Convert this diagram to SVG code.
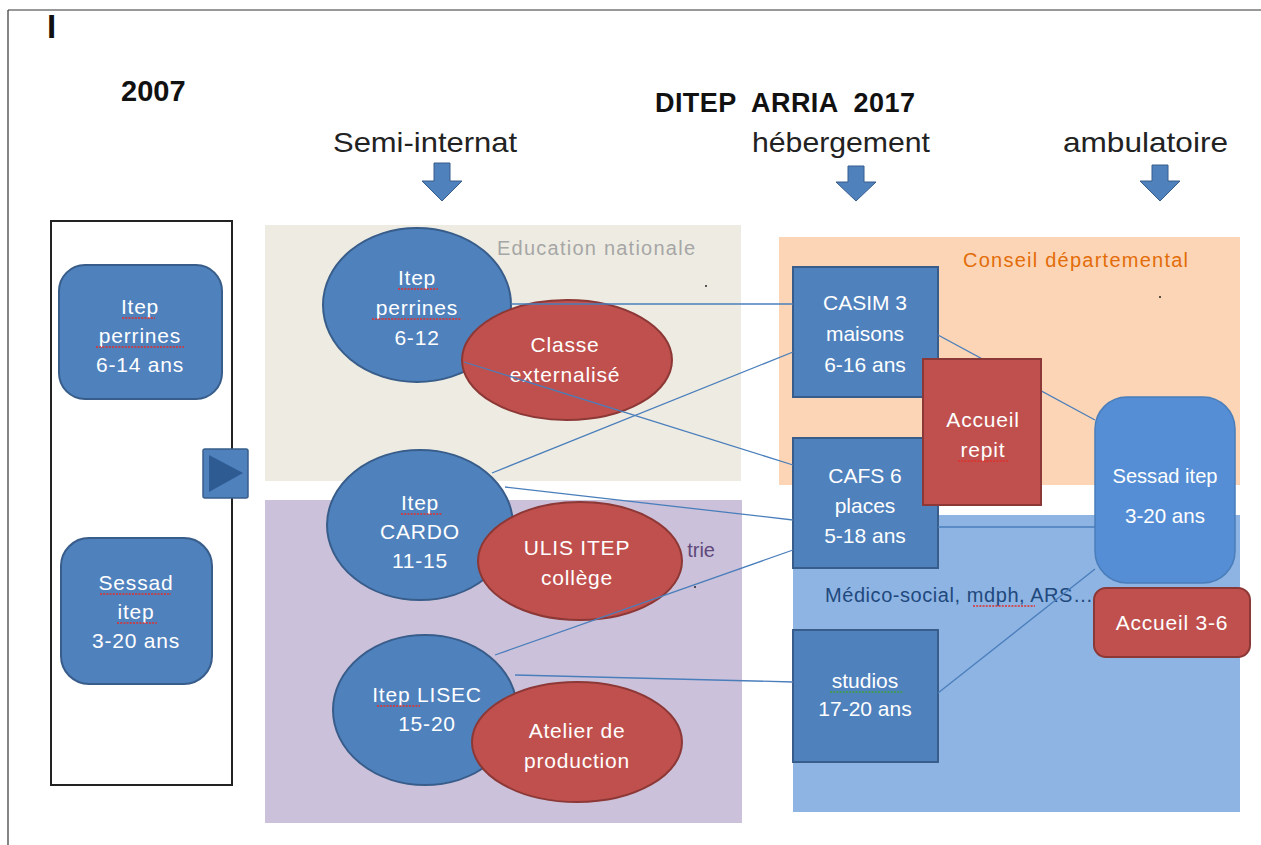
<svg xmlns="http://www.w3.org/2000/svg" width="1261" height="845" viewBox="0 0 1261 845">
<style>
.bl{fill:#4F81BD;stroke:#385D8A;stroke-width:2}
.lb{fill:#558ED5;stroke:#4A7EBB;stroke-width:1.5}
.rd{fill:#C0504D;stroke:#8C3836;stroke-width:2}
.t{font-family:"Liberation Sans",Arial,sans-serif;fill:#fff;font-size:21px;text-anchor:middle}
.te{letter-spacing:0.8px}
.h{font-family:"Liberation Sans",Arial,sans-serif;fill:#222;font-size:28px}
.hb{font-family:"Liberation Sans",Arial,sans-serif;fill:#111;font-weight:bold}
.zl{font-family:"Liberation Sans",Arial,sans-serif;font-size:20px}
.c{stroke:#4A7EBB;stroke-width:1.3;fill:none}
.sp{stroke:#E0302C;stroke-width:1.4;fill:none;stroke-dasharray:2 1.2}
.spg{stroke:#3FA03A;stroke-width:1.4;fill:none;stroke-dasharray:2 1.2}
.ar{fill:#4F81BD;stroke:#385D8A;stroke-width:1}
</style>

<!-- frame -->
<g id="frame">
<line x1="8" y1="10" x2="1261" y2="10" stroke="#333" stroke-width="1.2"/>
<line x1="8" y1="10" x2="8" y2="845" stroke="#333" stroke-width="1.2"/>
</g>

<!-- zones -->
<g id="zones">
<rect id="zone-edu" x="265" y="225" width="476" height="256" fill="#EEECE2"/>
<rect id="zone-psy" x="265" y="500" width="477" height="323" fill="#CCC1DA"/>
<rect id="zone-cd" x="779" y="237" width="461" height="248" fill="#FBD5B5"/>
<rect id="zone-ms" x="793" y="515" width="447" height="297" fill="#8EB4E3"/>
<text class="zl" x="497" y="255" fill="#A6A6A6" textLength="198" lengthAdjust="spacing">Education nationale</text>
<text class="zl" x="715" y="557" fill="#5F497A" text-anchor="end">trie</text>
<text class="zl" x="963" y="267" fill="#E36C09" textLength="225" lengthAdjust="spacing">Conseil départemental</text>
<text class="zl" x="825" y="602" fill="#1F497D" textLength="268" lengthAdjust="spacing">Médico-social, mdph, ARS…</text>
<circle cx="706" cy="286" r="1" fill="#222"/>
<circle cx="1160" cy="297" r="1" fill="#222"/>
</g>

<!-- headings -->
<g id="headings">
<text class="hb" x="47" y="38" font-size="33">I</text>
<text class="hb" x="121" y="101" font-size="29">2007</text>
<text class="hb" x="655" y="112" font-size="27" textLength="260" lengthAdjust="spacing" xml:space="preserve">DITEP  ARRIA  2017</text>
<text class="h" x="333" y="152" textLength="184" lengthAdjust="spacingAndGlyphs">Semi-internat</text>
<text class="h" x="752" y="152" textLength="178" lengthAdjust="spacingAndGlyphs">hébergement</text>
<text class="h" x="1063" y="152" textLength="165" lengthAdjust="spacingAndGlyphs">ambulatoire</text>
<path class="ar" d="M434,163 H450 V181 H462 L442,201 L422,181 H434 Z"/>
<path class="ar" d="M848,166 H864 V182 H876 L856,201 L836,182 H848 Z"/>
<path class="ar" d="M1152,165 H1168 V181 H1180 L1160,201 L1140,181 H1152 Z"/>
</g>

<!-- 2007 column -->
<g id="box-2007">
<rect x="51" y="221" width="181" height="564" fill="#fff" stroke="#222" stroke-width="2"/>
</g>
<g id="node-2007-itep">
<rect class="bl" x="59" y="265" width="163" height="134" rx="26"/>
<text class="t te" x="140" y="314">Itep</text>
<text class="t te" x="140" y="343">perrines</text>
<text class="t te" x="140" y="372">6-14 ans</text>
<path class="sp" d="M122,318 H155 M96,347 H184"/>
</g>
<g id="node-2007-sessad">
<rect class="bl" x="61" y="538" width="151" height="146" rx="28"/>
<text class="t te" x="136" y="590">Sessad</text>
<text class="t te" x="136" y="619">itep</text>
<text class="t te" x="136" y="648">3-20 ans</text>
<path class="sp" d="M100,594 H171 M117,623 H157"/>
</g>
<g id="node-transition">
<rect x="203" y="449" width="45" height="49" rx="2" fill="#4F81BD" stroke="#385D8A" stroke-width="1.5"/>
<path d="M209,455 L209,492 L243,473 Z" fill="#2F5B93"/>
</g>

<!-- semi-internat nodes -->
<g id="node-itep-perrines">
<ellipse class="bl" cx="417" cy="305" rx="94" ry="77"/>
<text class="t te" x="417" y="285">Itep</text>
<text class="t te" x="417" y="315">perrines</text>
<text class="t te" x="417" y="345">6-12</text>
<path class="sp" d="M398,289 H438 M372,319 H461"/>
</g>
<g id="node-classe">
<ellipse class="rd" cx="567" cy="360" rx="105" ry="60"/>
<text class="t te" x="565" y="352">Classe</text>
<text class="t te" x="565" y="382">externalisé</text>
</g>
<g id="node-itep-cardo">
<ellipse class="bl" cx="420" cy="525" rx="93" ry="75"/>
<text class="t te" x="420" y="510">Itep</text>
<text class="t te" x="420" y="539">CARDO</text>
<text class="t te" x="420" y="568">11-15</text>
<path class="sp" d="M401,514 H442"/>
</g>
<g id="node-ulis">
<ellipse class="rd" cx="580" cy="561" rx="102" ry="59"/>
<text class="t te" x="577" y="555">ULIS ITEP</text>
<text class="t te" x="577" y="585">collège</text>
</g>
<g id="node-itep-lisec">
<ellipse class="bl" cx="425" cy="710" rx="92" ry="75"/>
<text class="t te" x="427" y="702">Itep LISEC</text>
<text class="t te" x="427" y="731">15-20</text>
<path class="sp" d="M377,706 H420"/>
</g>
<g id="node-atelier">
<ellipse class="rd" cx="577" cy="742" rx="105" ry="60"/>
<text class="t te" x="577" y="738">Atelier de</text>
<text class="t te" x="577" y="768">production</text>
</g>

<!-- hebergement nodes -->
<g id="node-casim">
<rect class="bl" x="793" y="267" width="145" height="130" stroke-width="2.5"/>
<text class="t" x="865" y="310">CASIM 3</text>
<text class="t" x="865" y="341">maisons</text>
<text class="t" x="865" y="372">6-16 ans</text>
</g>
<g id="node-cafs">
<rect class="bl" x="793" y="438" width="145" height="130" stroke-width="2.5"/>
<text class="t" x="865" y="483">CAFS 6</text>
<text class="t" x="865" y="513">places</text>
<text class="t" x="865" y="543">5-18 ans</text>
</g>
<g id="node-studios">
<rect class="bl" x="793" y="630" width="145" height="132" stroke-width="2.5"/>
<text class="t" x="865" y="688">studios</text>
<text class="t" x="865" y="716">17-20 ans</text>
<path class="spg" d="M830,692 H903"/>
</g>

<!-- connectors -->
<g id="connectors">
<line class="c" x1="511" y1="304" x2="793" y2="304"/>
<line class="c" x1="464" y1="362" x2="793" y2="465"/>
<line class="c" x1="492" y1="473" x2="793" y2="352"/>
<line class="c" x1="505" y1="487" x2="793" y2="520"/>
<line class="c" x1="495" y1="655" x2="793" y2="550"/>
<line class="c" x1="515" y1="675" x2="793" y2="682"/>
<line class="c" x1="938" y1="335" x2="1095" y2="420"/>
<line class="c" x1="938" y1="527" x2="1095" y2="527"/>
<line class="c" x1="938" y1="693" x2="1095" y2="569"/>
<circle cx="695" cy="587" r="1" fill="#222"/>
</g>

<g id="node-accueil-repit">
<rect class="rd" x="923" y="359" width="118" height="146" stroke-width="2.5"/>
<text class="t te" x="983" y="427">Accueil</text>
<text class="t te" x="983" y="457">repit</text>
<path class="sp" d="M958,461 H1008"/>
</g>

<!-- ambulatoire -->
<g id="node-sessad-itep">
<rect class="lb" x="1095" y="397" width="140" height="186" rx="32"/>
<text class="t" x="1165" y="483" font-size="27" textLength="105" lengthAdjust="spacingAndGlyphs">Sessad itep</text>
<text class="t" x="1165" y="523" font-size="27" textLength="80" lengthAdjust="spacingAndGlyphs">3-20 ans</text>
</g>
<g id="node-accueil-3-6">
<rect class="rd" x="1094" y="588" width="156" height="69" rx="12" stroke-width="2.5"/>
<text class="t te" x="1172" y="630">Accueil 3-6</text>
</g>
<path class="sp" d="M973,606 H1035"/>
</svg>
